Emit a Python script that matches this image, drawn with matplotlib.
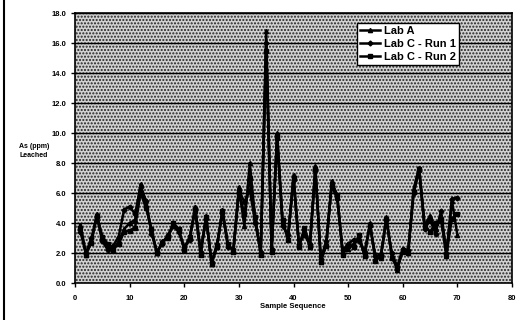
import matplotlib
matplotlib.use("Agg")
import matplotlib.pyplot as plt
from matplotlib.patches import Rectangle

sample = list(range(1, 71))
lab_a = [3.9,1.9,2.8,4.6,3.0,2.4,2.2,2.8,3.6,4.0,4.2,6.6,5.2,3.5,2.0,2.8,3.0,3.9,3.5,2.3,
         3.0,5.1,2.0,4.5,1.3,2.5,4.9,2.5,2.2,6.4,3.8,8.0,4.2,2.0,16.8,2.2,10.0,4.0,3.0,7.2,
         2.5,3.5,2.4,7.8,1.4,2.6,6.8,5.8,2.0,2.3,2.6,3.0,1.9,4.0,1.6,1.7,4.4,1.8,0.9,2.2,
         2.0,6.3,7.7,3.8,4.5,3.6,4.5,1.8,5.5,3.2]
lab_c1 = [3.4,2.0,3.0,4.4,2.8,2.2,2.5,3.1,4.9,5.1,4.6,6.4,5.5,3.3,2.1,2.6,3.2,3.8,3.4,2.4,
          2.9,5.0,2.1,4.3,1.4,2.6,4.7,2.4,2.3,6.2,5.4,6.2,4.0,2.1,16.0,2.3,9.6,3.8,3.2,6.9,
          2.6,3.2,2.6,7.5,1.6,2.8,6.5,5.6,2.2,2.6,2.9,2.8,2.1,3.8,1.8,1.9,4.2,2.0,1.1,2.3,
          2.2,6.0,7.5,3.6,4.2,3.3,4.8,2.0,5.6,5.7]
lab_c2 = [3.7,1.9,2.7,4.5,3.1,2.6,2.3,2.6,3.4,3.5,3.7,6.0,5.0,3.6,2.0,2.7,3.1,4.0,3.6,2.2,
          3.1,4.8,1.9,4.4,1.3,2.4,4.8,2.6,2.1,6.0,4.6,7.0,4.4,1.9,15.5,2.1,9.8,4.2,2.9,7.0,
          2.4,3.7,2.5,7.6,1.5,2.5,6.6,5.9,1.9,2.5,2.4,3.2,1.8,3.9,1.5,1.8,4.3,1.7,1.0,2.1,
          2.1,6.1,7.6,3.9,3.4,4.0,4.2,1.9,4.3,4.6]

x_ticks = [0, 10, 20, 30, 40, 50, 60, 70, 80]
y_ticks = [0, 2, 4, 6, 8, 10, 12, 14, 16, 18]

plt.rcParams['font.family'] = ['Liberation Sans', 'DejaVu Sans']
plt.rcParams['hatch.color'] = '#222222'
plt.rcParams['hatch.linewidth'] = 1.0

fig = plt.figure(figsize=(5.18, 3.2), dpi=100)
fig.patch.set_facecolor('white')
ax = fig.add_axes([75/518, 1-283/320, (512-75)/518, (283-13)/320])
ax.set_facecolor('#d2d2d2')
ax.add_patch(Rectangle((0, 0), 1, 1, transform=ax.transAxes, facecolor='none',
                       hatch='.....', edgecolor='#222222', linewidth=0, zorder=0))

for yv in y_ticks[1:]:
    ax.axhline(yv, color='black', linewidth=1.0, zorder=1)

ax.plot(sample, lab_a, color='black', linewidth=1.8, marker='^', markersize=3, label='Lab A', zorder=3)
ax.plot(sample, lab_c1, color='black', linewidth=1.8, marker='D', markersize=2.5, label='Lab C - Run 1', zorder=3)
ax.plot(sample, lab_c2, color='black', linewidth=1.8, marker='s', markersize=2.5, label='Lab C - Run 2', zorder=3)

ax.set_xlim(0, 80)
ax.set_ylim(0, 18)
ax.set_xticks(x_ticks)
ax.set_yticks(y_ticks)
ax.set_xticklabels([str(v) for v in x_ticks], fontsize=5.5, fontweight='bold')
ax.set_yticklabels([f"{v:.1f}" for v in y_ticks], fontsize=5.5, fontweight='bold')
ax.tick_params(axis='y', direction='out', length=3, width=1, pad=3, color='black')
ax.tick_params(axis='x', direction='out', length=3, width=1, pad=6, color='black')
for s in ax.spines.values():
    s.set_linewidth(1.2)
    s.set_color('black')

fig.text(34/518, 1-151/320, "As (ppm)\nLeached", ha='center', va='center',
         fontsize=5, fontweight='bold', linespacing=1.4)
fig.text(293/518, 1-306/320, "Sample Sequence", ha='center', va='center',
         fontsize=5.5, fontweight='bold')

leg = ax.legend(loc='upper left', bbox_to_anchor=((357-75)/437, 1-(23-13)/270),
                frameon=True, fancybox=False, edgecolor='black', framealpha=1,
                prop={'size': 8, 'weight': 'bold'}, handlelength=1.8, handletextpad=0.3,
                borderpad=0.3, labelspacing=0.25, borderaxespad=0)
leg.get_frame().set_linewidth(1.0)
leg.set_zorder(5)

fig.add_artist(plt.Line2D([4/518, 4/518], [0, 1], color='black', linewidth=1.5, transform=fig.transFigure))

fig.savefig('out.png', dpi=100)
